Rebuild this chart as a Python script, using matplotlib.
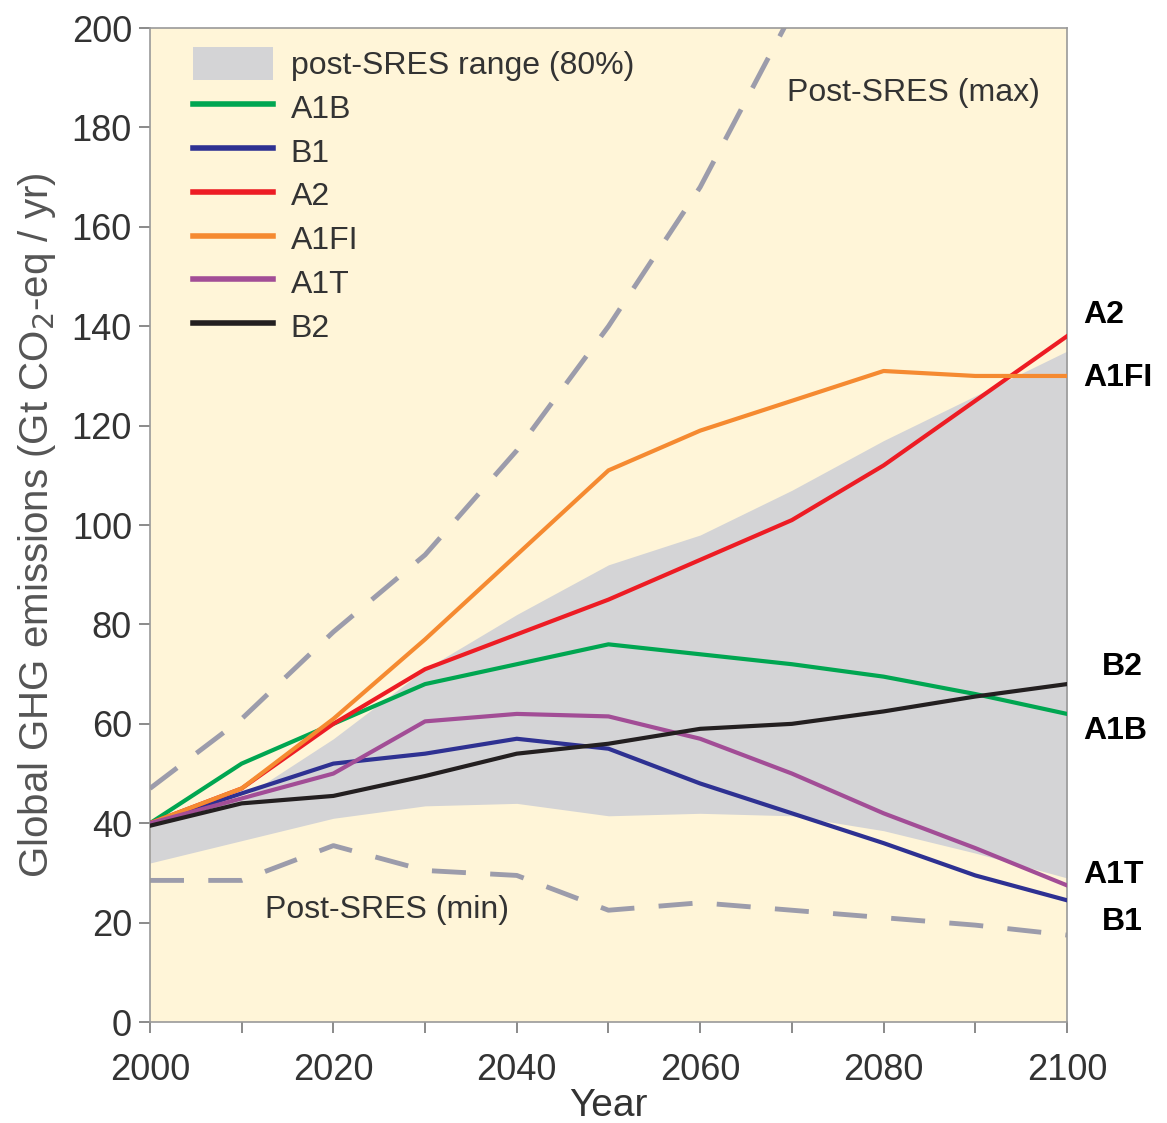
import matplotlib.pyplot as plt
from matplotlib.patches import Patch
from matplotlib.lines import Line2D
from matplotlib.ticker import MultipleLocator

years = [2000, 2010, 2020, 2030, 2040, 2050, 2060, 2070, 2080, 2090, 2100]

a1b = [40, 52, 60, 68, 72, 76, 74, 72, 69.5, 66, 62]
b1 = [40, 46, 52, 54, 57, 55, 48, 42, 36, 29.5, 24.5]
a2 = [40, 47, 60, 71, 78, 85, 93, 101, 112, 125, 138]
a1fi = [40, 47, 61, 77, 94, 111, 119, 125, 131, 130, 130]
a1t = [40, 45, 50, 60.5, 62, 61.5, 57, 50, 42, 35, 27.5]
b2 = [39.5, 44, 45.5, 49.5, 54, 56, 59, 60, 62.5, 65.5, 68]

range_low = [32, 36.5, 41, 43.5, 44, 41.5, 42, 41.5, 38.5, 34, 29]
range_high = [40, 45, 57, 71, 82, 92, 98, 107, 117, 126, 135]

max_years = [2000, 2010, 2020, 2030, 2040, 2050, 2060, 2070]
post_max = [47, 61, 78.5, 94, 115, 140, 168, 203]
post_min = [28.5, 28.5, 35.5, 30.5, 29.5, 22.5, 24, 22.5, 21, 19.5, 17.5]

scenarios = ["A1B", "B1", "A2", "A1FI", "A1T", "B2"]
series = [a1b, b1, a2, a1fi, a1t, b2]
colors = ["#00a651", "#2e3192", "#ed1c24", "#f58a31", "#a24d96", "#231f20"]
# end labels: name, x, y
right_labels = [("A2", 2101.8, 142.3), ("A1FI", 2101.8, 129.6), ("B2", 2103.8, 71.4),
                ("A1B", 2101.8, 58.6), ("A1T", 2101.8, 29.6), ("B1", 2103.8, 20.1)]

font = ["Liberation Sans", "DejaVu Sans"]
txt = "#333333"

fig = plt.figure(figsize=(11.67, 11.23), dpi=100)
ax = fig.add_axes([0.1285, 0.0899, 0.7858, 0.8851])
ax.set_facecolor("#fff5d8")

ax.fill_between(years, range_low, range_high, color="#d4d4d6", lw=0, zorder=1)
ax.plot(max_years, post_max, color="#9c9cab", lw=3.5, dashes=(7, 5), zorder=2)
ax.plot(years, post_min, color="#9c9cab", lw=3.5, dashes=(7, 5), zorder=2)

for name, vals, c in zip(scenarios, series, colors):
    ax.plot(years, vals, color=c, lw=3.0, zorder=3)

ax.set_xlim(2000, 2100)
ax.set_ylim(0, 200)
ax.xaxis.set_major_locator(MultipleLocator(20))
ax.xaxis.set_minor_locator(MultipleLocator(10))
ax.yaxis.set_major_locator(MultipleLocator(20))
ax.tick_params(which="both", direction="out", length=8, width=1.2, color="#777777",
               labelsize=26, labelcolor=txt)
ax.tick_params(axis="x", pad=14)
ax.tick_params(axis="y", pad=5)
for lab in ax.get_xticklabels() + ax.get_yticklabels():
    lab.set_family(font)
for s in ax.spines.values():
    s.set_color("#999999")
    s.set_linewidth(1.2)

ax.set_xlabel("Year", fontsize=28, family=font, color=txt, labelpad=0)
ax.set_ylabel("Global GHG emissions (Gt CO$_2$-eq / yr)", fontsize=29, family=font,
              color="#555555", labelpad=10)

ax.text(2069.5, 187, "Post-SRES (max)", fontsize=23, family=font, color=txt, va="center")
ax.text(2012.5, 22.5, "Post-SRES (min)", fontsize=23, family=font, color=txt, va="center")

for name, xv, yv in right_labels:
    ax.text(xv, yv, name, fontsize=23, fontweight="bold", family=font,
            color="black", va="center", ha="left", clip_on=False)

handles = [Patch(facecolor="#d4d4d6", edgecolor="none", label="post-SRES range (80%)")]
for name, c in zip(scenarios, colors):
    handles.append(Line2D([], [], color=c, lw=4, label=name))
leg = ax.legend(handles=handles, loc="upper left", frameon=False,
                prop={"family": font, "size": 23}, handlelength=2.5, handleheight=1.2,
                handletextpad=0.55, labelspacing=0.3, borderaxespad=0.1,
                bbox_to_anchor=(0.03, 0.997))
for t in leg.get_texts():
    t.set_color(txt)

fig.savefig("out.png", dpi=100)
